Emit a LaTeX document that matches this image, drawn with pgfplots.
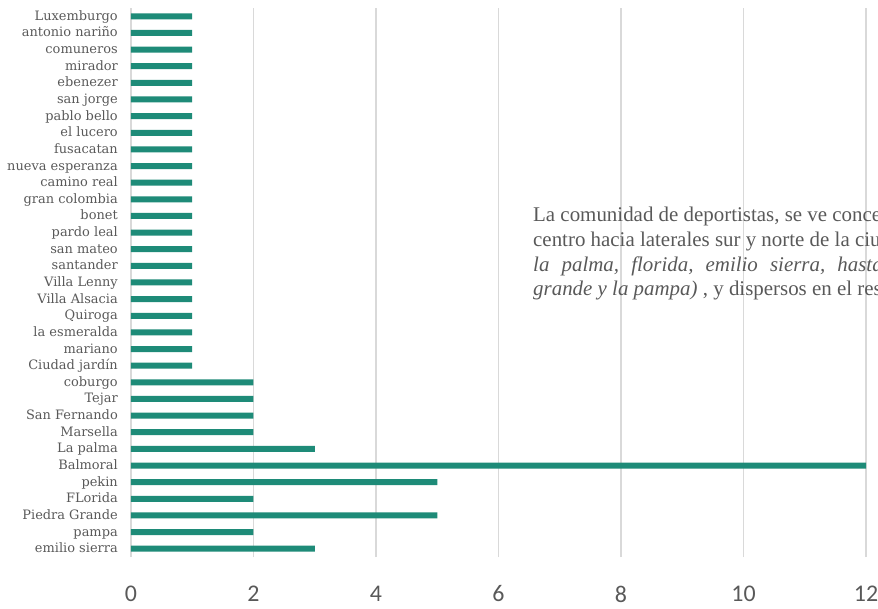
\documentclass[border=0pt]{standalone}
\usepackage{pgfplots}
\pgfplotsset{compat=1.18}
\usepackage{fontspec}
\setmainfont{Liberation Serif}
\newfontfamily\carlito{Carlito}
\newfontfamily\labfont{DejaVu Serif}
\definecolor{barteal}{HTML}{1E8B78}
\definecolor{labgray}{HTML}{595959}
\definecolor{gridgray}{HTML}{D9D9D9}

\begin{document}
\begin{tikzpicture}
\begin{axis}[
    scale only axis,
    width=735bp, height=549bp,
    xbar, bar width=6bp,
    xmin=0, xmax=12,
    ymin=-0.5, ymax=32.5,
    xtick={0,2,...,12},
    ytick={0,...,32},
    yticklabels={emilio sierra,pampa,Piedra Grande,FLorida,pekin,Balmoral,La palma,Marsella,San Fernando,Tejar,coburgo,Ciudad jardín,mariano,la esmeralda,Quiroga,Villa Alsacia,Villa Lenny,santander,san mateo,pardo leal,bonet,gran colombia,camino real,nueva esperanza,fusacatan,el lucero,pablo bello,san jorge,ebenezer,mirador,comuneros,antonio nariño,Luxemburgo},
    xmajorgrids,
    major grid style={gridgray, line width=1.2bp},
    axis line style={draw=none},
    major tick length=0pt,
    /pgf/number format/assume math mode=true,
    xticklabel style={font=\carlito\fontsize{24}{24}\selectfont, text=labgray, inner sep=0pt, anchor=center, yshift=-37bp},
    yticklabel style={font=\labfont\fontsize{13}{13}\selectfont, text=labgray, inner sep=0pt,
        text height=10bp, text depth=2bp, anchor=east, xshift=-13bp},
]
\addplot[fill=barteal, draw=none] coordinates {
    (3,0) (2,1) (5,2) (2,3) (5,4) (12,5) (3,6) (2,7) (2,8) (2,9) (2,10)
    (1,11) (1,12) (1,13) (1,14) (1,15) (1,16) (1,17) (1,18) (1,19) (1,20)
    (1,21) (1,22) (1,23) (1,24) (1,25) (1,26) (1,27) (1,28) (1,29) (1,30)
    (1,31) (1,32)
};
\coordinate (sw) at (rel axis cs:0,0);
\end{axis}
\pgfresetboundingbox
\path[use as bounding box] ([shift={(-131bp,-52bp)}]sw) rectangle ([shift={(747bp,557bp)}]sw);
\begin{scope}
\clip ([shift={(-131bp,-52bp)}]sw) rectangle ([shift={(747bp,557bp)}]sw);
\node[anchor=base west, inner sep=0pt, align=left, text=labgray,
      font=\fontsize{21}{25}\selectfont]
  at ([shift={(402bp,261bp)}]sw)
  {La comunidad de deportistas, se ve concentrada en el\\
   centro hacia laterales sur y norte de la ciudad \textit{(pekin,}\\
   \textit{la\hspace{0.58em}palma,\hspace{0.58em}florida,\hspace{0.58em}emilio\hspace{0.58em}sierra,\hspace{0.58em}hasta\hspace{0.58em}piedra}\\
   \textit{grande y la pampa)} , y dispersos en el resto};
\end{scope}
\end{tikzpicture}
\end{document}
